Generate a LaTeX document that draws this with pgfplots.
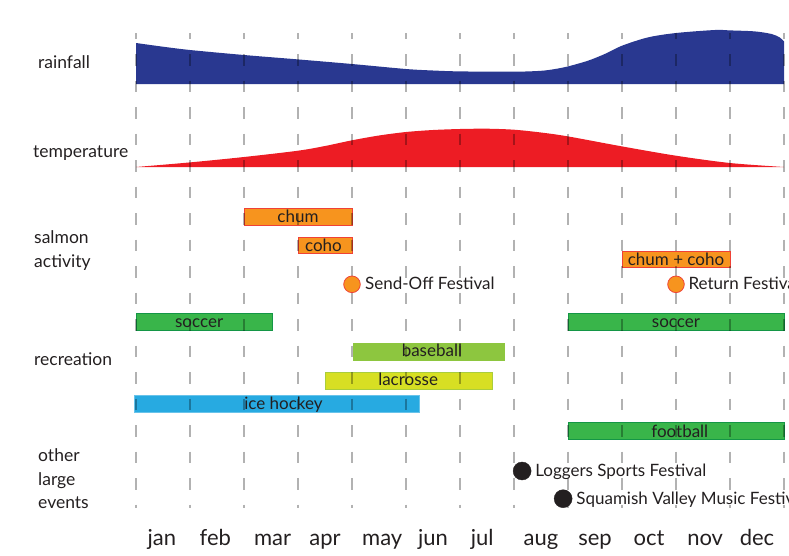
\documentclass[border=0pt]{standalone}
\usepackage{pgfplots}
\usepackage{pgfplotstable}
\pgfplotsset{compat=1.18}
\usepackage{fontspec}
\setmainfont{Lato}
\definecolor{txt}{RGB}{35,31,32}
\definecolor{rain}{RGB}{41,56,144}
\definecolor{temp}{RGB}{237,28,36}
\definecolor{salmon}{RGB}{247,148,30}
\definecolor{salmonedge}{RGB}{239,65,54}
\definecolor{soccer}{RGB}{57,181,74}
\definecolor{socceredge}{RGB}{20,150,70}
\definecolor{baseball}{RGB}{141,198,63}
\definecolor{lacrosse}{RGB}{215,223,35}
\definecolor{lacedge}{RGB}{170,205,60}
\definecolor{hockey}{RGB}{39,170,225}
\definecolor{gridc}{RGB}{178,178,178}

\tikzset{
  bar/.style={line width=0.8pt},
  lab/.style={font=\fontsize{17}{20}\selectfont, text=txt, inner sep=0pt},
  side/.style={font=\fontsize{17.5}{20}\selectfont, text=txt, inner sep=0pt, anchor=base west},
  mon/.style={font=\fontsize{22}{26}\selectfont, text=txt, inner sep=0pt, anchor=base},
}

\pgfplotstableread{
m h
0 41
0.5 37.3
1 34
2 29
3 24.6
4 20
5 15
5.5 13.5
6 12.6
7 12.3
7.5 13.2
7.76 15
8 17.6
8.37 23.3
8.68 30
9 38.3
9.48 46.6
10 51
10.72 54
11 53.6
11.46 52.6
11.77 50
11.92 46.6
12 42.6
}\rainfall

\pgfplotstableread{
m h
0 0
1 4.6
2 10
3 16.3
3.5 21
4 26.7
4.5 31.5
5 35
5.5 37
6 38
6.5 38.3
7 37.3
7.5 34.5
8 30.6
9 20.6
10 11.3
11 4
12 0
}\temperature

\begin{document}
\begin{tikzpicture}
\clip (0,0) rectangle (789pt,555pt);
\begin{axis}[
  scale only axis, width=789pt, height=555pt,
  xmin=-2.5185, xmax=12.0926, ymin=0, ymax=555, y dir=reverse,
  hide axis, clip=false,
]
% areas
\addplot[fill=rain, draw=none, smooth] table[x=m, y expr=84-\thisrow{h}] {\rainfall}
  -- (axis cs:12,84) -- (axis cs:0,84) -- cycle;
\addplot[fill=temp, draw=none, smooth] table[x=m, y expr=167-\thisrow{h}] {\temperature}
  -- (axis cs:0,167) -- cycle;

% bars
\addplot[bar, fill=salmon, draw=salmonedge] coordinates {(2,208) (4,208) (4,225) (2,225)} -- cycle;
\addplot[bar, fill=salmon, draw=salmonedge] coordinates {(3,237.5) (4,237.5) (4,253.5) (3,253.5)} -- cycle;
\addplot[bar, fill=salmon, draw=salmonedge] coordinates {(9,251.5) (11,251.5) (11,267.5) (9,267.5)} -- cycle;
\addplot[bar, fill=soccer, draw=socceredge] coordinates {(0,313.5) (2.53,313.5) (2.53,330.5) (0,330.5)} -- cycle;
\addplot[bar, fill=soccer, draw=socceredge] coordinates {(8,313.5) (12,313.5) (12,330.5) (8,330.5)} -- cycle;
\addplot[bar, fill=baseball, draw=baseball] coordinates {(4.03,343.5) (6.83,343.5) (6.83,360.5) (4.03,360.5)} -- cycle;
\addplot[bar, fill=lacrosse, draw=lacedge] coordinates {(3.5,372.5) (6.6,372.5) (6.6,389.5) (3.5,389.5)} -- cycle;
\addplot[bar, fill=hockey, draw=hockey!70!white] coordinates {(-0.03,395.5) (5.24,395.5) (5.24,412) (-0.03,412)} -- cycle;
\addplot[bar, fill=soccer, draw=socceredge] coordinates {(8,422.5) (12,422.5) (12,439.5) (8,439.5)} -- cycle;

% gridlines
\pgfplotsinvokeforeach{0,1,2,3,4,5,6,7,8,9,10,11,12}{
  \addplot[gridc, line width=1.6pt, dash pattern=on 11.5pt off 15pt, dash phase=5.5pt, blend mode=multiply] coordinates {(#1,33) (#1,508)};
}

% dots
\addplot[only marks, mark=*, mark size=8.3pt, mark options={fill=salmon, draw=salmonedge, line width=0.8pt}] coordinates {(4,284.3) (10,284.3)};
\addplot[only marks, mark=*, mark size=9pt, mark options={fill=txt, draw=txt}] coordinates {(7.15,471) (7.91,498.7)};

% bar labels
\node[lab, anchor=base] at (axis cs:3,222.5) {chum};
\node[lab, anchor=base] at (axis cs:3.47,251) {coho};
\node[lab, anchor=base] at (axis cs:10.0,265) {chum + coho};
\node[lab, anchor=base] at (axis cs:1.17,327) {soccer};
\node[lab, anchor=base] at (axis cs:10.0,327) {soccer};
\node[lab, anchor=base] at (axis cs:5.48,356) {baseball};
\node[lab, anchor=base] at (axis cs:5.04,385) {lacrosse};
\node[lab, anchor=base] at (axis cs:2.73,409) {ice hockey};
\node[lab, anchor=base] at (axis cs:10.07,437) {football};

% dot labels
\node[lab, anchor=base west, xshift=13pt] at (axis cs:4,289.3) {Send-Off Festival};
\node[lab, anchor=base west, xshift=12.3pt] at (axis cs:10,289.3) {Return Festival};
\node[lab, anchor=base west, xshift=13pt] at (axis cs:7.15,476) {Loggers Sports Festival};
\node[lab, anchor=base west, xshift=13pt] at (axis cs:7.91,504) {Squamish Valley Music Festival};

% side labels
\node[side] at (axis cs:-1.815,68) {rainfall};
\node[side] at (axis cs:-1.907,157) {temperature};
\node[side] at (axis cs:-1.889,243.3) {salmon};
\node[side] at (axis cs:-1.889,267.3) {activity};
\node[side] at (axis cs:-1.889,365) {recreation};
\node[side] at (axis cs:-1.815,461.7) {other};
\node[side] at (axis cs:-1.815,485) {large};
\node[side] at (axis cs:-1.815,508.3) {events};

% months
\node[mon] at (axis cs:0.48,545) {jan};
\node[mon] at (axis cs:1.47,545) {feb};
\node[mon] at (axis cs:2.53,545) {mar};
\node[mon] at (axis cs:3.5,545) {apr};
\node[mon] at (axis cs:4.56,545) {may};
\node[mon] at (axis cs:5.5,545) {jun};
\node[mon] at (axis cs:6.41,545) {jul};
\node[mon] at (axis cs:7.5,545) {aug};
\node[mon] at (axis cs:8.5,545) {sep};
\node[mon] at (axis cs:9.5,545) {oct};
\node[mon] at (axis cs:10.54,545) {nov};
\node[mon] at (axis cs:11.5,545) {dec};
\end{axis}
\end{tikzpicture}
\end{document}
